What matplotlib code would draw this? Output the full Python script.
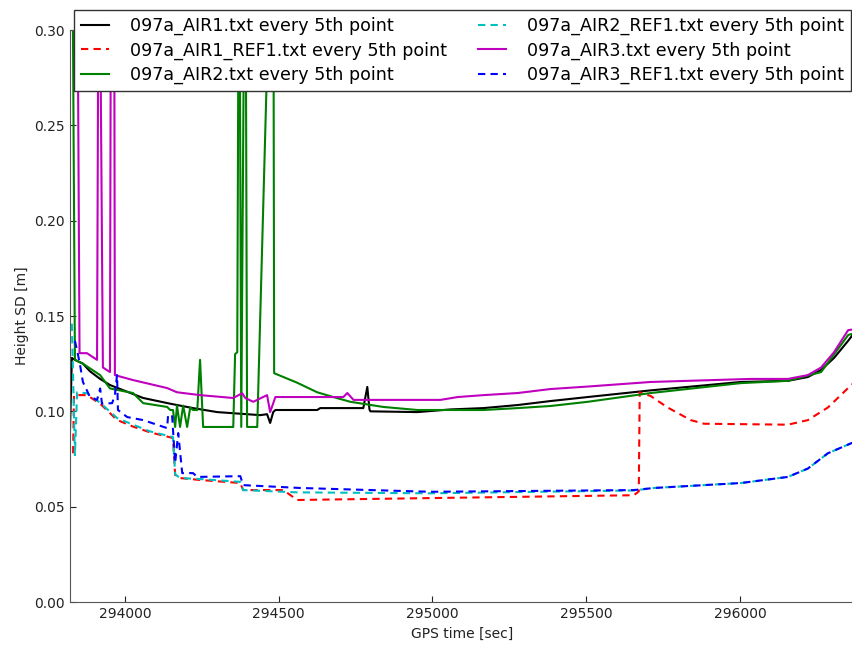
import matplotlib
matplotlib.use("Agg")
import matplotlib.pyplot as plt

# GPS time [sec] / height SD [m] (values > 0.30 are off-chart spikes)
t_air1 = [293821, 293827, 293837, 293863, 293886, 293919, 293951, 294059, 294147, 294221,
          294300, 294440, 294462, 294472, 294482, 294489, 294625, 294635, 294775, 294788,
          294795, 294798, 294951, 295059, 295166, 295277, 295384, 295505, 295710, 296003,
          296156, 296221, 296264, 296306, 296352, 296371]
sd_air1 = [0.090, 0.128, 0.127, 0.125, 0.121, 0.117, 0.1138, 0.107, 0.104, 0.1017,
           0.0996, 0.098, 0.0985, 0.0939, 0.0996, 0.1007, 0.1007, 0.1017, 0.1017, 0.1128,
           0.101, 0.100, 0.0996, 0.101, 0.1017, 0.1033, 0.1054, 0.1075, 0.111, 0.1154,
           0.116, 0.118, 0.1217, 0.128, 0.137, 0.141]

t_air1_ref1 = [293831, 293834, 293876, 293919, 293974, 294026, 294081, 294156, 294163, 294179,
               294244, 294375, 294384, 294515, 294560, 294993, 295655, 295671, 295674, 295710,
               295765, 295840, 295883, 296156, 296221, 296286, 296355, 296371]
sd_air1_ref1 = [0.078, 0.1085, 0.1085, 0.104, 0.0955, 0.092, 0.089, 0.086, 0.0666, 0.065,
                0.064, 0.0624, 0.0587, 0.0587, 0.0535, 0.0545, 0.056, 0.058, 0.110, 0.108,
                0.102, 0.0954, 0.0935, 0.093, 0.0954, 0.102, 0.1127, 0.115]

t_air2 = [293827, 293837, 293863, 293919, 293951, 294026, 294059, 294137, 294147, 294156,
          294163, 294169, 294179, 294189, 294202, 294212, 294221, 294235, 294244, 294254,
          294352, 294358, 294365, 294371, 294378, 294391, 294397, 294430, 294482, 294485,
          294560, 294625, 294677, 294733, 294840, 294951, 295166, 295277, 295384, 295505,
          295710, 296003, 296156, 296264, 296352, 296371]
sd_air2 = [0.40, 0.127, 0.125, 0.119, 0.112, 0.1096, 0.1043, 0.1023, 0.1007, 0.1007,
           0.0918, 0.103, 0.0918, 0.103, 0.0918, 0.102, 0.1007, 0.1007, 0.127, 0.0918,
           0.0918, 0.130, 0.131, 0.40, 0.0918, 0.40, 0.0918, 0.0918, 0.40, 0.120,
           0.115, 0.110, 0.1075, 0.105, 0.1023, 0.1007, 0.1007, 0.1017, 0.1028, 0.105,
           0.1096, 0.1148, 0.116, 0.1206, 0.140, 0.141]

t_air2_ref1 = [293827, 293837, 293844, 293876, 293919, 293974, 294026, 294081, 294156, 294163,
               294179, 294244, 294375, 294384, 294560, 294993, 295655, 295720, 296003, 296156,
               296221, 296286, 296371]
sd_air2_ref1 = [0.146, 0.077, 0.110, 0.1095, 0.1045, 0.0965, 0.093, 0.0895, 0.0865, 0.067,
                0.065, 0.0645, 0.063, 0.0587, 0.0575, 0.057, 0.0585, 0.0598, 0.0624, 0.0656,
                0.070, 0.078, 0.0839]

t_air3 = [293843, 293852, 293876, 293909, 293915, 293928, 293951, 293955, 293964, 293967,
          294026, 294137, 294169, 294244, 294352, 294381, 294391, 294417, 294462, 294472,
          294489, 294710, 294723, 294743, 295026, 295082, 295166, 295277, 295384, 295505,
          295710, 296035, 296156, 296221, 296264, 296306, 296352, 296371]
sd_air3 = [0.40, 0.1305, 0.1305, 0.127, 0.40, 0.123, 0.1206, 0.40, 0.40, 0.119,
           0.1164, 0.1122, 0.110, 0.1085, 0.107, 0.1095, 0.107, 0.105, 0.1085, 0.0996,
           0.1075, 0.1075, 0.1096, 0.106, 0.106, 0.1075, 0.1085, 0.1096, 0.1117, 0.113,
           0.1154, 0.117, 0.117, 0.119, 0.123, 0.131, 0.1426, 0.143]

t_air3_ref1 = [293837, 293844, 293853, 293863, 293886, 293909, 293919, 293925, 293958, 293967,
               293974, 293977, 294007, 294059, 294137, 294140, 294153, 294163, 294173, 294186,
               294221, 294235, 294375, 294384, 294570, 294993, 295655, 295720, 296003, 296156,
               296221, 296286, 296371]
sd_air3_ref1 = [0.137, 0.132, 0.125, 0.1154, 0.1075, 0.106, 0.112, 0.104, 0.1043, 0.1085,
                0.119, 0.1007, 0.097, 0.0954, 0.0912, 0.098, 0.098, 0.0729, 0.0886, 0.0676,
                0.0676, 0.0656, 0.066, 0.0613, 0.0598, 0.0578, 0.0587, 0.0598, 0.0624, 0.0656,
                0.070, 0.078, 0.0839]

series = [
    (t_air1, sd_air1, "k", "-", "097a_AIR1.txt every 5th point"),
    (t_air1_ref1, sd_air1_ref1, "r", "--", "097a_AIR1_REF1.txt every 5th point"),
    (t_air2, sd_air2, "g", "-", "097a_AIR2.txt every 5th point"),
    (t_air2_ref1, sd_air2_ref1, "c", "--", "097a_AIR2_REF1.txt every 5th point"),
    (t_air3, sd_air3, "m", "-", "097a_AIR3.txt every 5th point"),
    (t_air3_ref1, sd_air3_ref1, "b", "--", "097a_AIR3_REF1.txt every 5th point"),
]

fig = plt.figure(figsize=(8.53, 6.48), dpi=100)
# right edge of the axes sits just past the canvas, as in the cropped original
ax = fig.add_axes([70 / 853, 1 - 602 / 648, 784 / 853, 572 / 648])

for t, sd, col, ls, lab in series:
    if ls == "--":
        ax.plot(t, sd, color=col, linestyle=(0, (3.5, 2.5)), linewidth=1.5, label=lab)
    else:
        ax.plot(t, sd, color=col, linestyle=ls, linewidth=1.5, label=lab)

all_t = [v for s in series for v in s[0]]
ax.set_xlim(min(all_t), max(all_t))
ax.set_ylim(0, 0.30)
ax.set_yticks([0.00, 0.05, 0.10, 0.15, 0.20, 0.25, 0.30])
ax.set_yticklabels(["%.2f" % v for v in ax.get_yticks()])
ax.set_xticks([294000, 294500, 295000, 295500, 296000])
ax.tick_params(direction="in", top=True, right=False, length=4, labelsize=10, colors="#222222")
for sp in ax.spines.values():
    sp.set_color("#555555")
ax.spines["right"].set_visible(False)
ax.set_xlabel("GPS time [sec]", fontsize=10, color="#222222")
ax.set_ylabel("Height SD [m]", fontsize=10, color="#222222")

leg = fig.legend(loc="upper right", bbox_to_anchor=(851 / 853, 1 - 10 / 648), ncol=2,
                 fontsize=12.6, fancybox=False, borderaxespad=0, borderpad=0.4,
                 handlelength=1.6, handletextpad=1.2, columnspacing=1.75,
                 labelspacing=0.36, framealpha=1)
leg.get_frame().set_edgecolor("#333333")

fig.savefig("out.png", dpi=100)
